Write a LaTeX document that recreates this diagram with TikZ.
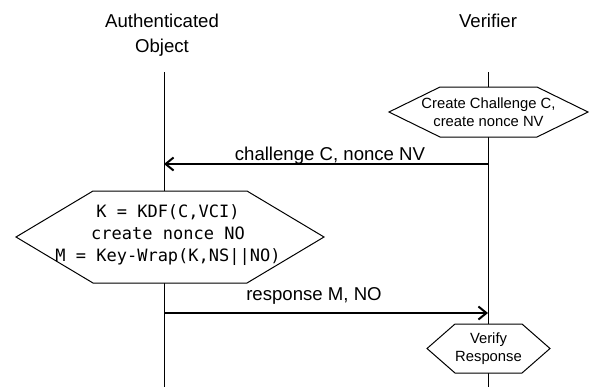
\documentclass[tikz,border=0pt]{standalone}
\usepackage{fontspec}
\setmainfont{Liberation Sans}
\setmonofont{DejaVu Sans Mono}
\usetikzlibrary{arrows.meta,calc}

\begin{document}
\begin{tikzpicture}[
    x=1bp, y=-1bp,
    >={Straight Barb[length=8bp,width=13bp]},
    title/.style={font=\fontsize{18.6bp}{25bp}\selectfont, align=center, inner sep=0pt},
    msg/.style={font=\fontsize{18.6bp}{22bp}\selectfont, inner sep=0pt, anchor=base},
    steptext/.style={font=\fontsize{14.8bp}{18bp}\selectfont, align=center, inner sep=0pt},
    codetext/.style={font=\ttfamily\fontsize{17bp}{22bp}\selectfont, align=center, inner sep=0pt},
    hexline/.style={draw=black, fill=white, line width=1bp},
    life/.style={black, line width=1bp},
    arr/.style={->, black, line width=2bp},
]
\useasboundingbox (0,0) rectangle (589,387);

% === PARTIES ===
\node[title] (obj) at (162, 34.7) {Authenticated\\Object};
\node[title, anchor=base] (ver) at (488, 27) {Verifier};

% Lifelines
\coordinate (obj top) at (164, 72);
\coordinate (obj bot) at (164, 387);
\coordinate (ver top) at (488, 72);
\coordinate (ver bot) at (488, 387);
\draw[life] (obj top) -- (obj bot);
\draw[life] (ver top) -- (ver bot);

% === VERIFIER: CHALLENGE ===
\coordinate (chal c) at (488.5, 112);
\draw[hexline] ($(chal c)+(-99.5,0)$) -- ++(51,-25) -- ++(97,0) -- ++(51,25)
    -- ++(-51,25) -- ++(-97,0) -- cycle;
\node[steptext] (chal) at (chal c) {Create Challenge C,\\create nonce NV};

% Message 1
\coordinate (m1 from) at (488, 164);
\coordinate (m1 to) at (164, 164);
\draw[arr] (m1 from) -- (m1 to);
\node[msg] (m1) at (330, 160) {challenge C, nonce NV};

% === OBJECT: RESPONSE ===
\coordinate (resp c) at (170, 237);
\draw[hexline] ($(resp c)+(-154,0)$) -- ++(77,-46) -- ++(154,0) -- ++(77,46)
    -- ++(-77,46) -- ++(-154,0) -- cycle;
\node[codetext] (resp) at (168, 235) {K = KDF(C,VCI)\\create nonce NO\\M = Key-Wrap(K,NS||NO)};

% Message 2
\coordinate (m2 from) at (164, 313);
\coordinate (m2 to) at (488, 313);
\draw[arr] (m2 from) -- (m2 to);
\node[msg] (m2) at (314, 300) {response M, NO};

% === VERIFIER: CHECK ===
\coordinate (chk c) at (488.5, 348.5);
\draw[hexline] ($(chk c)+(-61.5,0)$) -- ++(28,-24.5) -- ++(67,0) -- ++(28,24.5)
    -- ++(-28,24.5) -- ++(-67,0) -- cycle;
\node[steptext] (chk) at (chk c) {Verify\\Response};

\end{tikzpicture}
\end{document}
